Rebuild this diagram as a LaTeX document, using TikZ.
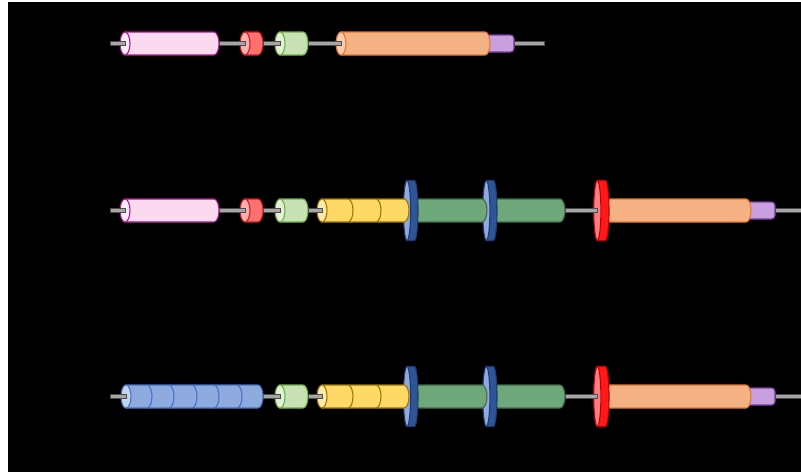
\documentclass[tikz,border=0pt]{standalone}
\usepackage{tikz}
\definecolor{rodfill}{HTML}{A6A6A6}
\definecolor{rodline}{HTML}{4D4D4D}
\definecolor{pinkB}{HTML}{FBD9EF}\definecolor{pinkF}{HTML}{FDEAF6}\definecolor{pinkS}{HTML}{A8198A}
\definecolor{redB}{HTML}{FF7171}\definecolor{redF}{HTML}{FFADAD}\definecolor{redS}{HTML}{C81E1E}
\definecolor{lgB}{HTML}{C9E2B5}\definecolor{lgF}{HTML}{E3F0D8}\definecolor{lgS}{HTML}{71AD47}
\definecolor{orB}{HTML}{F4B183}\definecolor{orF}{HTML}{F8CBAD}\definecolor{orS}{HTML}{E3772E}
\definecolor{puB}{HTML}{C8A0E0}\definecolor{puS}{HTML}{7A3DA0}
\definecolor{yeB}{HTML}{FFD966}\definecolor{yeF}{HTML}{FFE9A8}\definecolor{yeS}{HTML}{9C7600}
\definecolor{dgB}{HTML}{6EA87A}\definecolor{dgS}{HTML}{3F6B4A}
\definecolor{bdR}{HTML}{2F5597}\definecolor{bdF}{HTML}{8FAADC}\definecolor{bdS}{HTML}{1F3A6E}
\definecolor{rdR}{HTML}{FF1A1A}\definecolor{rdF}{HTML}{FF7C80}\definecolor{rdS}{HTML}{C00000}
\definecolor{blB}{HTML}{8EAADF}\definecolor{blF}{HTML}{C5D5F0}\definecolor{blS}{HTML}{4472C4}
\tikzset{shp/.style={line width=1.1}}
% cylinder with visible left face: face-centre x, right-arc centre x, y, body, face, stroke
\newcommand\cylface[6]{%
  \filldraw[shp,fill=#4,draw=#6] (#1,#3-11.5) -- (#2,#3-11.5)
    arc[start angle=-90,end angle=90,x radius=5,y radius=11.5] -- (#1,#3+11.5) -- cycle;
  \filldraw[shp,fill=#5,draw=#6] (#1,#3) ellipse[x radius=5,y radius=11.5];}
% body with hidden flat left end
\newcommand\cylflat[5]{%
  \filldraw[shp,fill=#4,draw=#5] (#1,#3-11.5) -- (#2,#3-11.5)
    arc[start angle=-90,end angle=90,x radius=5,y radius=11.5] -- (#1,#3+11.5) -- cycle;}
\newcommand\segline[3]{%
  \draw[shp,draw=#3] (#1,#2-11.5) arc[start angle=-90,end angle=90,x radius=5,y radius=11.5];}
% disk: face centre x, rim centre x, y, rim, face, stroke
\newcommand\diskA[6]{%
  \filldraw[shp,fill=#4,draw=#6] (#1,#3-30) -- (#2,#3-30)
    arc[start angle=-90,end angle=90,x radius=3.6,y radius=30] -- (#1,#3+30) -- cycle;
  \filldraw[shp,fill=#5,draw=#6] (#1,#3) ellipse[x radius=3.6,y radius=30];}
\newcommand\rodA[3]{%
  \filldraw[fill=rodfill,draw=rodline,line width=0.9] (#1,#3-2.3) rectangle (#2,#3+2.3);}
\newcommand\tailA[3]{%
  \filldraw[shp,fill=puB,draw=puS,rounded corners=3.5] (#1,#3-8.5) rectangle (#2,#3+8.5);}
% shared long part of rows 2 and 3
\newcommand\longpart[1]{%
  \tailA{746}{775}{#1}
  \cylflat{602}{746}{#1}{orB}{orS}
  \cylflat{490}{560}{#1}{dgB}{dgS}
  \diskA{486.3}{493.4}{#1}{bdR}{bdF}{bdS}
  \cylflat{410}{482}{#1}{dgB}{dgS}
  \diskA{407}{414.4}{#1}{bdR}{bdF}{bdS}
  \cylface{322}{404}{#1}{yeB}{yeF}{yeS}
  \segline{348}{#1}{yeS}\segline{376}{#1}{yeS}
  \diskA{597.3}{605.4}{#1}{rdR}{rdF}{rdS}
  \cylface{280}{303}{#1}{lgB}{lgF}{lgS}
  \rodA{263}{280}{#1}\rodA{308}{322}{#1}\rodA{565}{597}{#1}\rodA{775}{801}{#1}}
\begin{document}
\begin{tikzpicture}[x=1pt,y=-1pt]
\useasboundingbox (0,0) rectangle (801,472);
\fill[white] (0,0) rectangle (801,472);
\fill[black] (8,2) rectangle (801,472);
% row 1
\tailA{486}{514}{43.5}
\cylface{341}{485}{43.5}{orB}{orF}{orS}
\cylface{125}{214}{43.5}{pinkB}{pinkF}{pinkS}
\cylface{245}{258}{43.5}{redB}{redF}{redS}
\cylface{280}{303}{43.5}{lgB}{lgF}{lgS}
\rodA{110}{125}{43.5}\rodA{219}{245}{43.5}\rodA{263}{280}{43.5}\rodA{308}{341}{43.5}\rodA{514}{544}{43.5}
% row 2
\longpart{210.5}
\cylface{125}{214}{210.5}{pinkB}{pinkF}{pinkS}
\cylface{245}{258}{210.5}{redB}{redF}{redS}
\rodA{110}{125}{210.5}\rodA{219}{245}{210.5}
% row 3
\longpart{396.5}
\cylface{126}{258}{396.5}{blB}{blF}{blS}
\segline{147}{396.5}{blS}\segline{169}{396.5}{blS}\segline{192}{396.5}{blS}
\segline{214}{396.5}{blS}\segline{237}{396.5}{blS}
\rodA{110}{126}{396.5}
\end{tikzpicture}
\end{document}
